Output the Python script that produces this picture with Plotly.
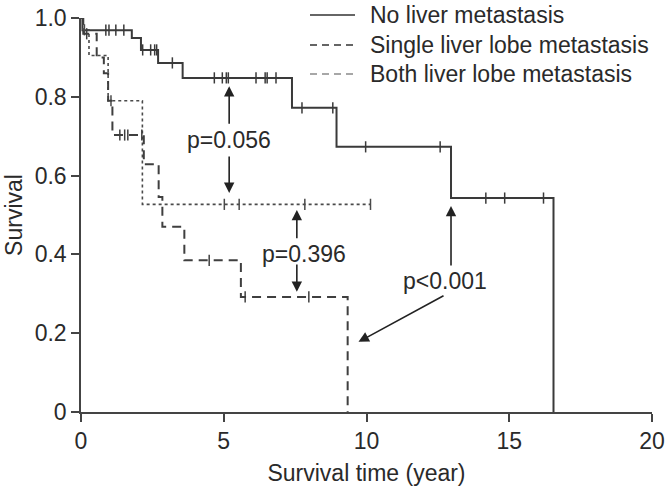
import plotly.graph_objects as go
import numpy as np

# ---- data ----
no_time = [0, 0.05, 1.78, 2.1, 2.7, 3.56, 7.39, 8.95, 12.96, 16.55]
no_surv = [1.0, 0.969, 0.949, 0.919, 0.886, 0.848, 0.772, 0.673, 0.543, 0.0]
no_cens = [0.87, 0.98, 1.22, 1.50, 2.16, 2.44, 2.58, 2.65, 3.2, 4.67, 4.95, 5.09,
           5.16, 6.13, 6.45, 6.52, 6.83, 7.74, 8.82, 9.97, 12.58, 14.18, 14.84, 16.2]

single_time = [0, 0.07, 0.28, 0.95, 2.15, 10.14]
single_surv = [1.0, 0.97, 0.905, 0.79, 0.527, 0.527]
single_cens = [0.12, 1.05, 5.02, 5.54, 7.84, 10.14]

both_time = [0, 0.08, 0.55, 0.8, 0.95, 1.1, 2.2, 2.72, 2.85, 3.62, 5.6, 9.34]
both_surv = [1.0, 0.96, 0.90, 0.86, 0.79, 0.703, 0.629, 0.546, 0.47, 0.385, 0.292, 0.0]
both_cens = [0.2, 1.36, 1.53, 1.64, 2.13, 4.49, 5.75, 7.98]

legend_names = ["No liver metastasis", "Single liver lobe metastasis", "Both liver lobe metastasis"]
x_ticks = [0, 5, 10, 15, 20]
y_ticks = [0, 0.2, 0.4, 0.6, 0.8, 1.0]
y_ticklabels = ["0", "0.2", "0.4", "0.6", "0.8", "1.0"]

FONT = "Arial, Liberation Sans, sans-serif"
TXT = "#2a2a2a"
FS = 23


def step_at(times, survs, t):
    idx = np.searchsorted(np.array(times), t, side="right") - 1
    return survs[max(idx, 0)]


fig = go.Figure()

curves = [
    (no_time, no_surv, no_cens, dict(color="#3a3a3a", width=2, dash="solid")),
    (single_time, single_surv, single_cens, dict(color="#4a4a4a", width=1.6, dash="dot")),
    (both_time, both_surv, both_cens, dict(color="#3f3f3f", width=2, dash="9px,6px")),
]
for t, s, c, ln in curves:
    fig.add_trace(go.Scatter(x=t, y=s, mode="lines", line=dict(shape="hv", **ln),
                             showlegend=False, cliponaxis=False, hoverinfo="skip"))
    fig.add_trace(go.Scatter(x=c, y=[step_at(t, s, v) for v in c], mode="markers",
                             marker=dict(symbol="line-ns-open", size=8, color=ln["color"],
                                         line=dict(color=ln["color"], width=1.5)),
                             showlegend=False, cliponaxis=False, hoverinfo="skip"))

# legend drawn in paper pixels (line sample + text)
W, H = 666, 490
L, R, T, B = 81, 14, 18, 78
pw, ph = W - L - R, H - T - B


def px2paper(px, py):
    return (px - L) / pw, (H - B - py) / ph


legend_rows_y = [15, 45, 74]
legend_styles = [
    dict(color="#333333", width=1.5, dash="solid"),
    dict(color="#333333", width=1.5, dash="7px,5px"),
    dict(color="#8a8a8a", width=1.5, dash="7px,5px"),
]
for name, ln, ry in zip(legend_names, legend_styles, legend_rows_y):
    x0, y0 = px2paper(310, ry)
    x1, _ = px2paper(355, ry)
    fig.add_shape(type="line", xref="paper", yref="paper", x0=x0, x1=x1, y0=y0, y1=y0, line=ln)
    tx, ty = px2paper(368, ry)
    fig.add_annotation(x=tx, y=ty, xref="paper", yref="paper", text=name, showarrow=False,
                       xanchor="left", yanchor="middle",
                       font=dict(family=FONT, size=FS, color=TXT))

# arrows (data coordinates)
arrows = [
    ((5.19, 0.728), (5.19, 0.827)),
    ((5.19, 0.652), (5.19, 0.556)),
    ((7.56, 0.437), (7.56, 0.513)),
    ((7.56, 0.378), (7.56, 0.305)),
    ((12.96, 0.368), (12.96, 0.523)),
    ((12.75, 0.297), (9.72, 0.178)),
]
for (tx, ty), (hx, hy) in arrows:
    fig.add_annotation(x=hx, y=hy, ax=tx, ay=ty, axref="x", ayref="y", xref="x", yref="y",
                       text="", showarrow=True, arrowhead=2, arrowsize=1.3,
                       arrowwidth=1.6, arrowcolor="#222222")

labels = [("p=0.056", 5.19, 0.69), ("p=0.396", 7.8, 0.40), ("p<0.001", 12.75, 0.333)]
for txt, x, y in labels:
    fig.add_annotation(x=x, y=y, xref="x", yref="y", text=txt, showarrow=False,
                       font=dict(family=FONT, size=FS, color=TXT))

fig.update_layout(
    width=W, height=H,
    margin=dict(l=L, r=R, t=T, b=B, autoexpand=False),
    paper_bgcolor="white", plot_bgcolor="white",
    font=dict(family=FONT, size=FS, color=TXT),
    showlegend=False,
)
fig.update_xaxes(range=[0, 20], tickvals=x_ticks, ticks="outside", ticklen=8, tickwidth=1.5,
                 tickcolor="#444", showline=True, linecolor="#444", linewidth=1.5,
                 showgrid=False, zeroline=False, ticklabeloverflow="allow", automargin=False,
                 title=dict(text="Survival time (year)", font=dict(size=FS, family=FONT, color=TXT),
                            standoff=12),
                 tickfont=dict(size=FS, family=FONT, color=TXT))
fig.update_yaxes(range=[0, 1.0], tickvals=y_ticks, ticktext=y_ticklabels, ticks="outside",
                 ticklen=8, tickwidth=1.5, tickcolor="#444", showline=True, linecolor="#444",
                 linewidth=1.5, showgrid=False, zeroline=False, ticklabeloverflow="allow",
                 automargin=False,
                 title=dict(text="Survival", font=dict(size=FS, family=FONT, color=TXT), standoff=6),
                 tickfont=dict(size=FS, family=FONT, color=TXT))

fig.write_html("out.html")
